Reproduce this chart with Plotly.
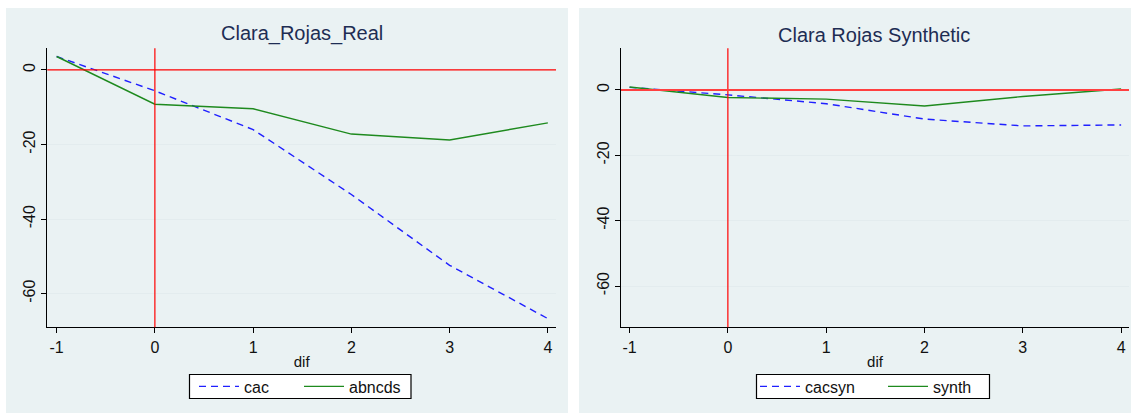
import plotly.graph_objects as go

# ---- data ----
dif = [-1, 0, 1, 2, 3, 4]
cac = [3.6, -5.6, -16.0, -33.4, -52.4, -66.7]
abncds = [3.6, -9.2, -10.4, -17.2, -18.8, -14.2]
cacsyn = [0.8, -1.5, -4.2, -8.9, -11.0, -10.7]
synth = [0.9, -2.3, -2.8, -4.9, -2.0, 0.3]

x_ticks = [-1, 0, 1, 2, 3, 4]
x_ticklabels = ["-1", "0", "1", "2", "3", "4"]
y_ticks = [0, -20, -40, -60]
y_ticklabels = ["0", "-20", "-40", "-60"]
ref_x = 0
ref_y = 0

titles = ["Clara_Rojas_Real", "Clara Rojas Synthetic"]
x_title = "dif"

W, H = 1133, 415
FONT = "Liberation Sans, Arial, sans-serif"
BLUE = "#2020FF"
GREEN = "#1E8A1E"
BG = "#EAF2F3"

def px(v):
    return v / W

def py(v):
    return 1 - v / H

fig = go.Figure()

fig.add_trace(go.Scatter(x=dif, y=cac, mode="lines", name="cac",
                         line=dict(color=BLUE, width=1.4, dash="7px,5px"),
                         xaxis="x", yaxis="y", legend="legend"))
fig.add_trace(go.Scatter(x=dif, y=abncds, mode="lines", name="abncds",
                         line=dict(color=GREEN, width=1.4),
                         xaxis="x", yaxis="y", legend="legend"))
fig.add_trace(go.Scatter(x=dif, y=cacsyn, mode="lines", name="cacsyn",
                         line=dict(color=BLUE, width=1.4, dash="7px,5px"),
                         xaxis="x2", yaxis="y2", legend="legend2"))
fig.add_trace(go.Scatter(x=dif, y=synth, mode="lines", name="synth",
                         line=dict(color=GREEN, width=1.4),
                         xaxis="x2", yaxis="y2", legend="legend2"))

ydom = [py(327.2), py(48.3)]

axis_common = dict(
    showline=True, linecolor="black", linewidth=1.2,
    ticks="outside", ticklen=5, tickcolor="black", tickwidth=1,
    tickfont=dict(family=FONT, size=16, color="#111"),
    zeroline=False, mirror=False,
)
xtitle_font = dict(family=FONT, size=15, color="#111")

fig.update_layout(
    width=W, height=H,
    margin=dict(l=0, r=0, t=0, b=0),
    paper_bgcolor="white",
    plot_bgcolor="white",
    showlegend=True,
    xaxis=dict(domain=[px(47.3), px(556)], range=[-1.095, 4.083],
               tickvals=x_ticks, ticktext=x_ticklabels, showgrid=False, anchor="y",
               title=dict(text=x_title, font=xtitle_font, standoff=1),
               **axis_common),
    yaxis=dict(domain=ydom, range=[-69.0, 5.8], tickvals=y_ticks, ticktext=y_ticklabels,
               tickangle=-90, showgrid=True, gridcolor="#E3ECEE", gridwidth=1,
               anchor="x", **axis_common),
    xaxis2=dict(domain=[px(621), px(1129)], range=[-1.087, 4.08],
                tickvals=x_ticks, ticktext=x_ticklabels, showgrid=False, anchor="y2",
                title=dict(text=x_title, font=xtitle_font, standoff=1),
                **axis_common),
    yaxis2=dict(domain=ydom, range=[-72.6, 12.75], tickvals=y_ticks, ticktext=y_ticklabels,
                tickangle=-90, showgrid=True, gridcolor="#E3ECEE", gridwidth=1,
                anchor="x2", **axis_common),
    legend=dict(orientation="h", x=px(299), xanchor="center", y=py(386.5), yanchor="middle",
                bgcolor="rgba(0,0,0,0)", borderwidth=0,
                font=dict(family=FONT, size=16, color="#111"),
                entrywidth=50, itemwidth=40, tracegroupgap=0),
    legend2=dict(orientation="h", x=px(883), xanchor="center", y=py(386.5), yanchor="middle",
                 bgcolor="rgba(0,0,0,0)", borderwidth=0,
                 font=dict(family=FONT, size=16, color="#111"),
                 entrywidth=73, itemwidth=40, tracegroupgap=0),
)

shapes = [
    dict(type="rect", xref="paper", yref="paper", x0=px(6), x1=px(568), y0=py(413), y1=py(8),
         fillcolor=BG, line=dict(width=0), layer="below"),
    dict(type="rect", xref="paper", yref="paper", x0=px(579), x1=px(1131), y0=py(413), y1=py(8),
         fillcolor=BG, line=dict(width=0), layer="below"),
    # legend boxes
    dict(type="rect", xref="paper", yref="paper", x0=px(189.5), x1=px(411), y0=py(398.5), y1=py(374.5),
         fillcolor="white", line=dict(color="black", width=1.2), layer="below"),
    dict(type="rect", xref="paper", yref="paper", x0=px(756.5), x1=px(989.5), y0=py(398.5), y1=py(374.5),
         fillcolor="white", line=dict(color="black", width=1.2), layer="below"),
    # reference lines
    dict(type="line", xref="x", yref="y domain", x0=ref_x, x1=ref_x, y0=0, y1=1,
         line=dict(color="red", width=1.2)),
    dict(type="line", xref="x domain", yref="y", x0=0, x1=1, y0=ref_y, y1=ref_y,
         line=dict(color="red", width=1.2)),
    dict(type="line", xref="x2", yref="y2 domain", x0=ref_x, x1=ref_x, y0=0, y1=1,
         line=dict(color="red", width=1.2)),
    dict(type="line", xref="x2 domain", yref="y2", x0=0, x1=1, y0=ref_y, y1=ref_y,
         line=dict(color="#FF4040", width=2)),
]
fig.update_layout(shapes=shapes)

annotations = [
    dict(text=titles[0], xref="paper", yref="paper", x=px(301.5), y=py(34), xanchor="center",
         yanchor="middle", showarrow=False, font=dict(family=FONT, size=20, color="#1E2D53")),
    dict(text=titles[1], xref="paper", yref="paper", x=px(874), y=py(35), xanchor="center",
         yanchor="middle", showarrow=False, font=dict(family=FONT, size=20, color="#1E2D53")),
]
fig.update_layout(annotations=annotations)

fig.write_html("out.html", config={"displayModeBar": False},
               post_script="document.body.style.margin='0';document.body.style.overflow='hidden';")
